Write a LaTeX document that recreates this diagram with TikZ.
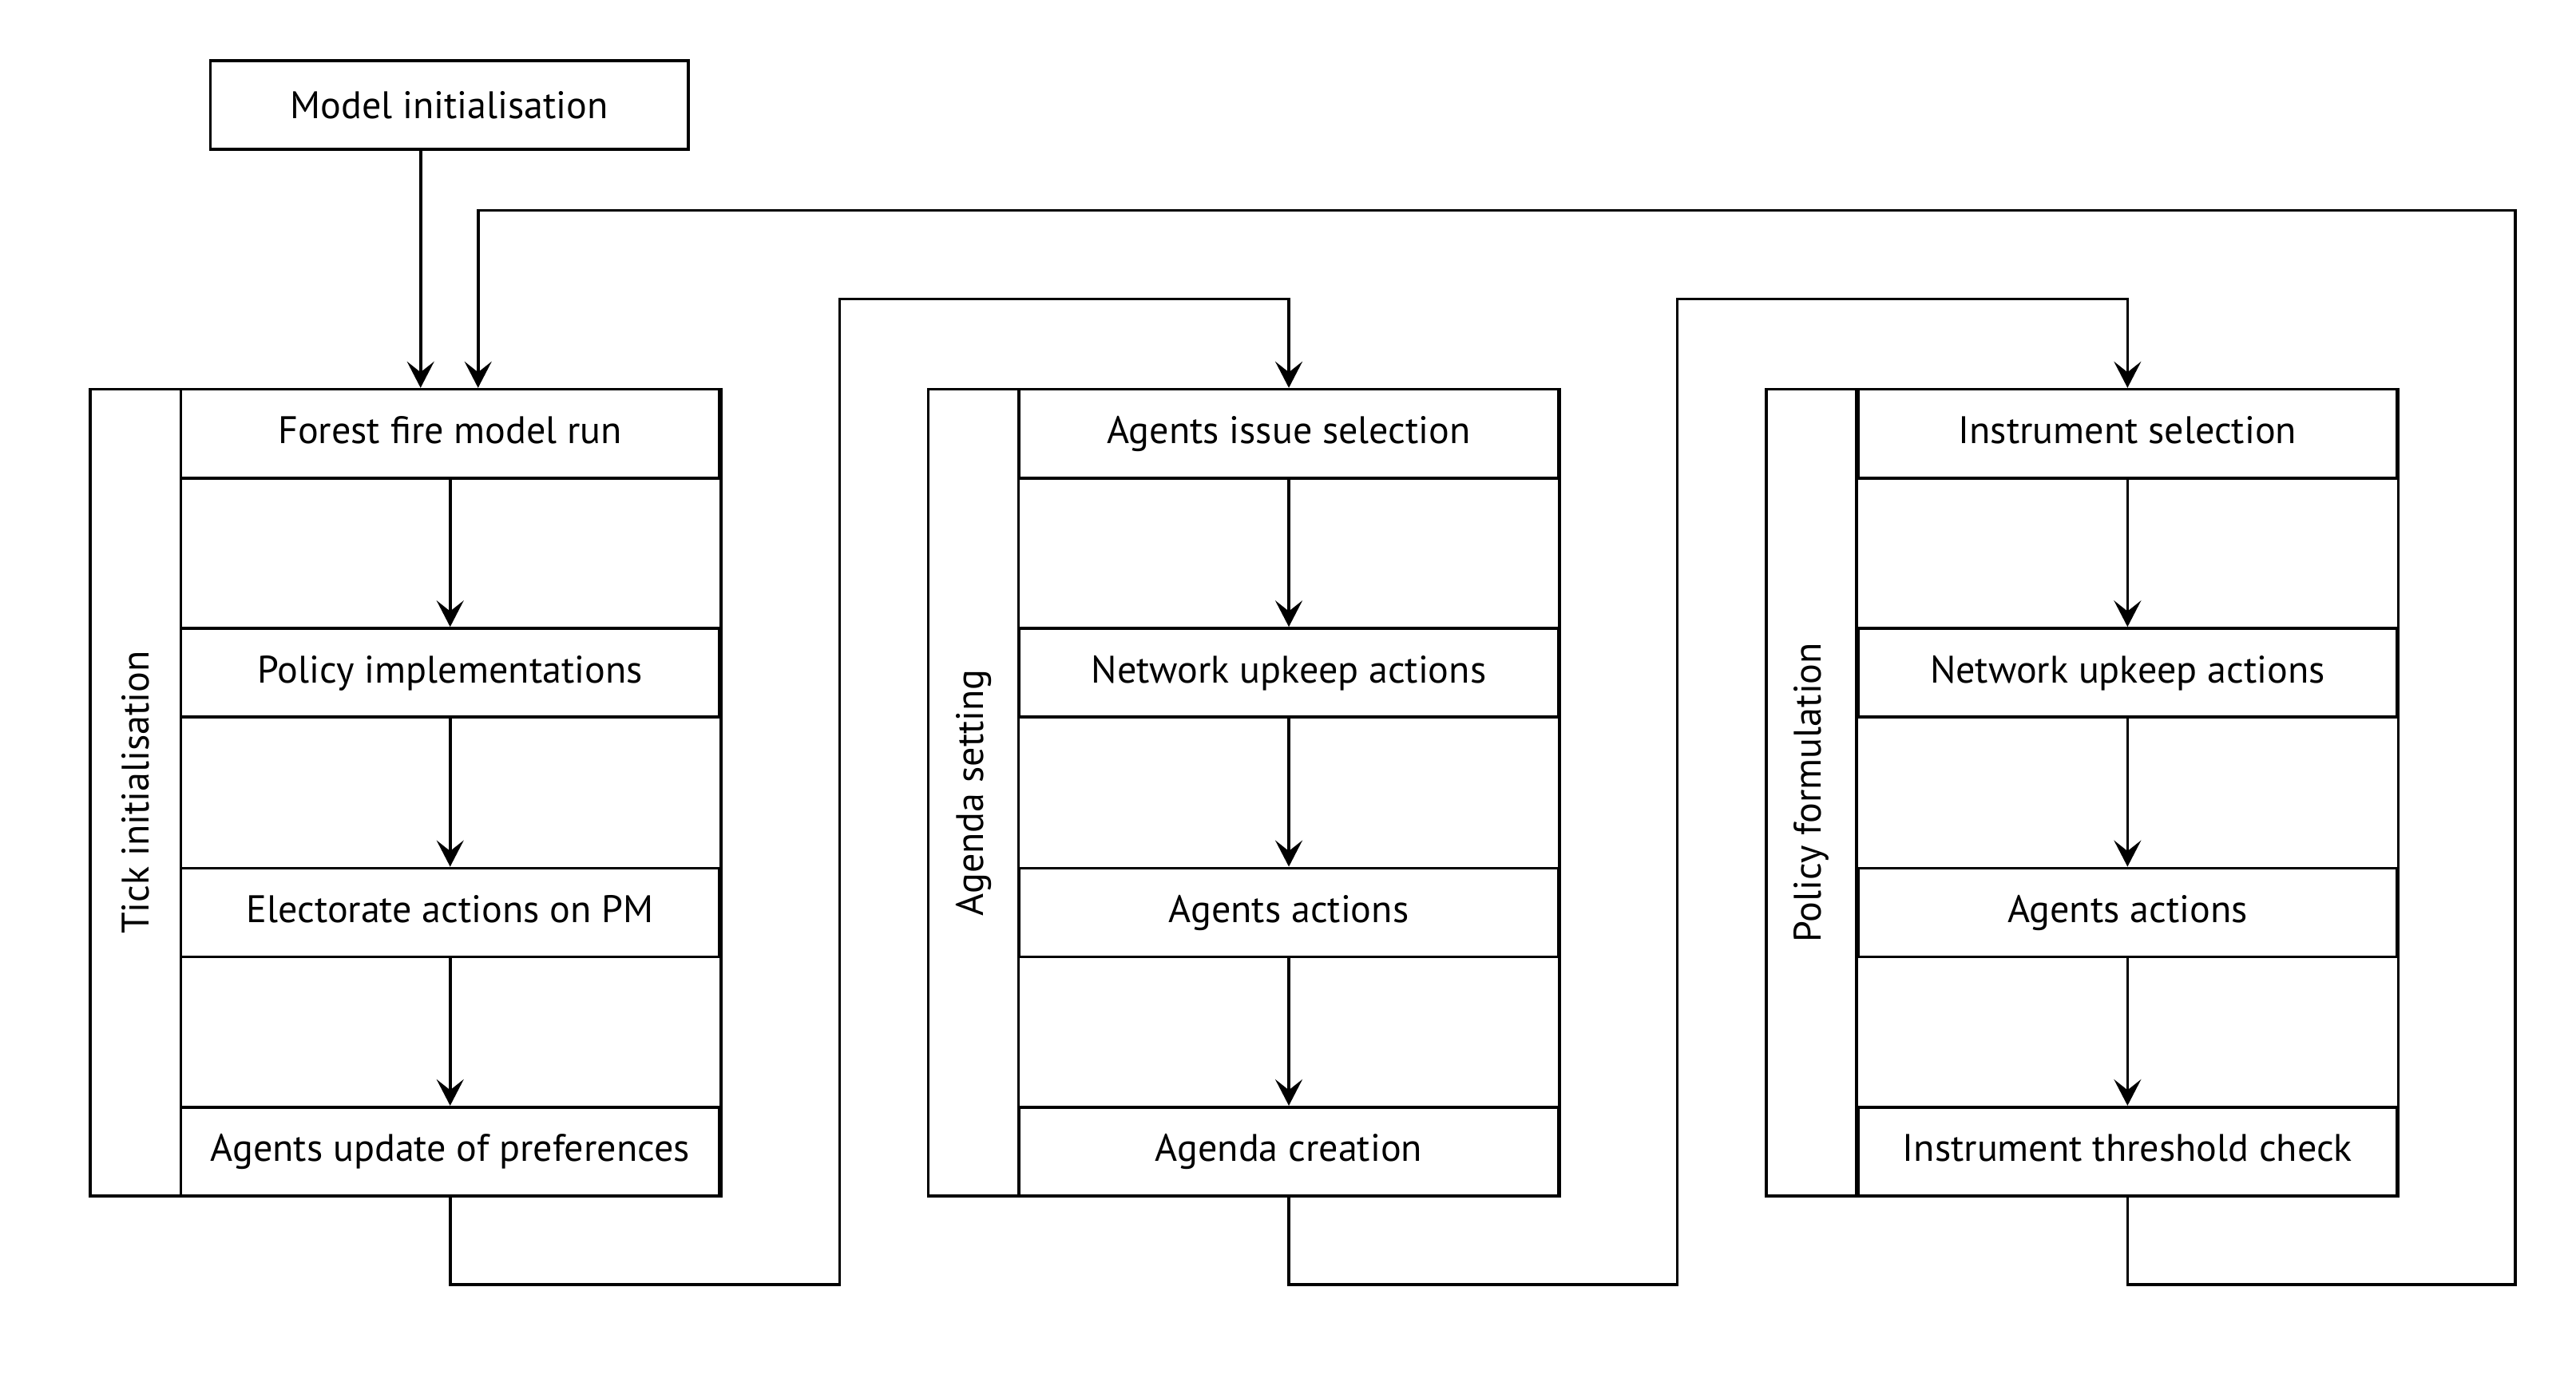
\documentclass[tikz,border=0pt]{standalone}
\usepackage{fontspec}
\setmainfont{PT Sans}
\usepackage{tikz}
\usetikzlibrary{calc, arrows.meta}

\begin{document}
\begin{tikzpicture}[-, line width=1pt, font=\fontsize{13.3}{16}\selectfont,
        stepbox/.style={draw, fill=white, minimum width=6.56cm, minimum height=1.08cm, inner sep=0pt, text height=1.9ex, text depth=0.5ex},
        lane/.style={draw, rotate=90, minimum width=9.82cm, minimum height=1.1cm, inner sep=0pt},
        arr/.style={-{Stealth[length=3.2mm, width=3.3mm, inset=1.3mm]}}]
        \useasboundingbox (0,0) rectangle (31.36,-16.77);

        \node[draw, minimum width=5.82cm, minimum height=1.08cm](MI) at (5.47, -1.28){Model initialisation};

        \node[lane](T) at (1.65, -9.65){Tick initialisation};
        \node[stepbox](T_r1) at (5.48, -5.28){Forest fire model run};
        \node[stepbox](T_r2) at (5.48, -8.19){Policy implementations};
        \node[stepbox](T_r3) at (5.48, -11.11){Electorate actions on PM};
        \node[stepbox](T_r4) at (5.48, -14.02){Agents update of preferences};
        \draw (T_r1.north east) -- (T_r4.south east);

        \path(T_r1) edge[arr] (T_r2);
        \path(T_r2) edge[arr] (T_r3);
        \path(T_r3) edge[arr] (T_r4);

        \node[lane](A) at (11.85, -9.65){Agenda setting};
        \node[stepbox](A_r1) at (15.69, -5.28){Agents issue selection};
        \node[stepbox](A_r2) at (15.69, -8.19){Network upkeep actions};
        \node[stepbox](A_r3) at (15.69, -11.11){Agents actions};
        \node[stepbox](A_r4) at (15.69, -14.02){Agenda creation};
        \draw (A_r1.north east) -- (A_r4.south east);

        \path(A_r1) edge[arr] (A_r2);
        \path(A_r2) edge[arr] (A_r3);
        \path(A_r3) edge[arr] (A_r4);

        \node[lane](P) at (22.05, -9.65){Policy formulation};
        \node[stepbox](P_r1) at (25.9, -5.28){Instrument selection};
        \node[stepbox](P_r2) at (25.9, -8.19){Network upkeep actions};
        \node[stepbox](P_r3) at (25.9, -11.11){Agents actions};
        \node[stepbox](P_r4) at (25.9, -14.02){Instrument threshold check};
        \draw (P_r1.north east) -- (P_r4.south east);

        \path(P_r1) edge[arr] (P_r2);
        \path(P_r2) edge[arr] (P_r3);
        \path(P_r3) edge[arr] (P_r4);

        \coordinate(in_1) at (5.12, 0);
        \coordinate(in_2) at (5.82, 0);
        \coordinate(TA_b) at (10.22, -15.64);
        \coordinate(TA_t) at (10.22, -3.64);
        \coordinate(AP_b) at (20.42, -15.64);
        \coordinate(AP_t) at (20.42, -3.64);
        \coordinate(PT_b) at (30.62, -15.64);
        \coordinate(PT_t) at (30.62, -2.56);

        \draw[arr] (MI.south -| in_1) -- (T_r1.north -| in_1);
        \draw[arr] (T_r4.south) |- (TA_b) -- (TA_t) -| (A_r1.north);
        \draw[arr] (A_r4.south) |- (AP_b) -- (AP_t) -| (P_r1.north);
        \draw[arr] (P_r4.south) |- (PT_b) -- (PT_t) -| (T_r1.north -| in_2);

    \end{tikzpicture}
\end{document}
